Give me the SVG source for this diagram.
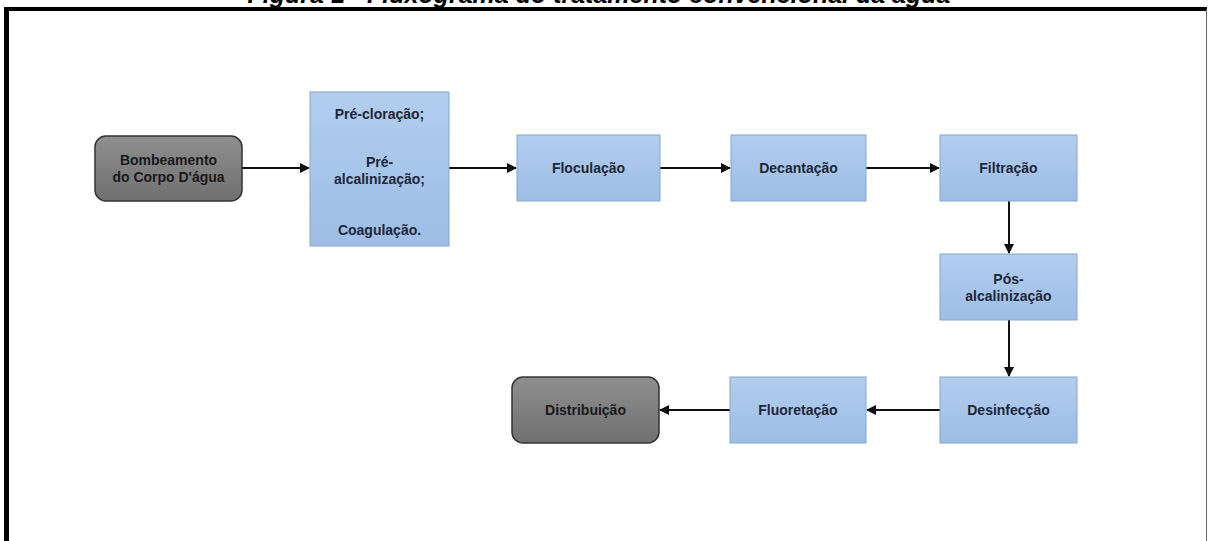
<svg xmlns="http://www.w3.org/2000/svg" width="1208" height="541" viewBox="0 0 1208 541">
<style>
.lbl{font-family:"Liberation Sans",Arial,sans-serif;font-weight:bold;font-size:14px;text-anchor:middle;fill:#1d2738}
.glbl{font-family:"Liberation Sans",Arial,sans-serif;font-weight:bold;font-size:14px;text-anchor:middle;fill:#1a1a1a}
.blue{fill:url(#gb);stroke:#86a6cc;stroke-width:1}
.gray{fill:url(#gg);stroke:#333;stroke-width:1.5}
.conn{stroke:#111;stroke-width:2;fill:none;marker-end:url(#ah)}
.title{font-family:"Liberation Sans",Arial,sans-serif;font-weight:bold;font-style:italic;font-size:25px;text-anchor:middle;fill:#000}
</style>
<defs>
<linearGradient id="gb" x1="0" y1="0" x2="0" y2="1"><stop offset="0" stop-color="#b2cdee"/><stop offset="1" stop-color="#9dbde6"/></linearGradient>
<linearGradient id="gg" x1="0" y1="0" x2="0" y2="1"><stop offset="0" stop-color="#8e8e8e"/><stop offset="1" stop-color="#717171"/></linearGradient>
<marker id="ah" viewBox="0 0 10 10" refX="9" refY="5" markerWidth="5" markerHeight="5" orient="auto"><path d="M0,0 L10,5 L0,10 z" fill="#111"/></marker>
</defs>
<rect x="0" y="0" width="1208" height="541" fill="#fff"/>
<text class="title" x="599" y="3">Figura 1 - Fluxograma do tratamento convencional da água</text>
<g id="frame">
<line x1="4" y1="9" x2="1207" y2="9" stroke="#000" stroke-width="4"/>
<line x1="6.5" y1="7" x2="6.5" y2="541" stroke="#000" stroke-width="5"/>
<line x1="1206.5" y1="9" x2="1206.5" y2="541" stroke="#666" stroke-width="1"/>
</g>
<g id="connectors">
<line class="conn" x1="242" y1="168" x2="309" y2="168"/>
<line class="conn" x1="449" y1="168" x2="516" y2="168"/>
<line class="conn" x1="660" y1="168" x2="730" y2="168"/>
<line class="conn" x1="866" y1="168" x2="939" y2="168"/>
<line class="conn" x1="1009" y1="201" x2="1009" y2="253"/>
<line class="conn" x1="1009" y1="320" x2="1009" y2="376"/>
<line class="conn" x1="940" y1="410" x2="867" y2="410"/>
<line class="conn" x1="730" y1="410" x2="660" y2="410"/>
</g>
<g id="bombeamento">
<rect class="gray" x="95" y="136" width="147" height="65" rx="11"/>
<text class="glbl" x="168.5" y="165">Bombeamento</text>
<text class="glbl" x="168.5" y="182">do Corpo D'água</text>
</g>
<g id="pre">
<rect class="blue" x="310" y="92" width="139" height="154"/>
<text class="lbl" x="379.5" y="119">Pré-cloração;</text>
<text class="lbl" x="379.5" y="167">Pré-</text>
<text class="lbl" x="379.5" y="184">alcalinização;</text>
<text class="lbl" x="379.5" y="235">Coagulação.</text>
</g>
<g id="floculacao">
<rect class="blue" x="517" y="135" width="143" height="66"/>
<text class="lbl" x="588.5" y="173">Floculação</text>
</g>
<g id="decantacao">
<rect class="blue" x="731" y="135" width="135" height="66"/>
<text class="lbl" x="798.5" y="173">Decantação</text>
</g>
<g id="filtracao">
<rect class="blue" x="940" y="135" width="137" height="66"/>
<text class="lbl" x="1008.5" y="173">Filtração</text>
</g>
<g id="posalcalinizacao">
<rect class="blue" x="940" y="254" width="137" height="66"/>
<text class="lbl" x="1008.5" y="284">Pós-</text>
<text class="lbl" x="1008.5" y="301">alcalinização</text>
</g>
<g id="desinfeccao">
<rect class="blue" x="940" y="377" width="137" height="66"/>
<text class="lbl" x="1008.5" y="415">Desinfecção</text>
</g>
<g id="fluoretacao">
<rect class="blue" x="730" y="377" width="136" height="66"/>
<text class="lbl" x="798" y="415">Fluoretação</text>
</g>
<g id="distribuicao">
<rect class="gray" x="512" y="377" width="147" height="66" rx="11"/>
<text class="glbl" x="585.5" y="415">Distribuição</text>
</g>
</svg>
